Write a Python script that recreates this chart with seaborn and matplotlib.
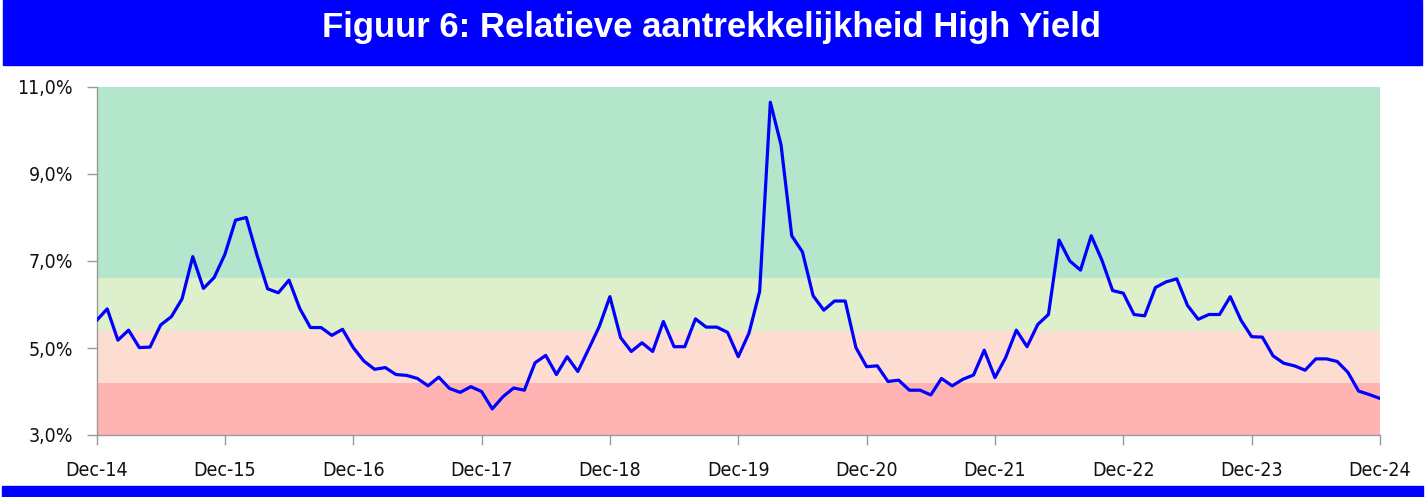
import numpy as np
import pandas as pd
import matplotlib
matplotlib.use("Agg")
import matplotlib.pyplot as plt
import seaborn as sns
from matplotlib import font_manager as fm
from matplotlib.ticker import FuncFormatter

# ---- data ----
tick_labels = ["Dec-14", "Dec-15", "Dec-16", "Dec-17", "Dec-18", "Dec-19",
               "Dec-20", "Dec-21", "Dec-22", "Dec-23", "Dec-24"]
values = [
    5.63, 5.90, 5.18, 5.41, 5.01, 5.02, 5.53, 5.72, 6.13, 7.10, 6.37, 6.62,
    7.15, 7.94, 8.00, 7.14, 6.36, 6.27, 6.56, 5.91, 5.47, 5.47, 5.29, 5.43,
    5.01, 4.70, 4.51, 4.55, 4.39, 4.37, 4.30, 4.13, 4.33, 4.07, 3.98, 4.11,
    4.00, 3.60, 3.88, 4.08, 4.03, 4.66, 4.83, 4.39, 4.80, 4.46, 4.97, 5.49,
    6.18, 5.24, 4.92, 5.12, 4.92, 5.61, 5.03, 5.03, 5.67, 5.48, 5.48, 5.36,
    4.80, 5.34, 6.30, 10.65, 9.67, 7.58, 7.21, 6.20, 5.87, 6.08, 6.08, 5.01,
    4.57, 4.59, 4.23, 4.26, 4.03, 4.03, 3.92, 4.30, 4.13, 4.28, 4.38, 4.95,
    4.32, 4.78, 5.41, 5.03, 5.54, 5.77, 7.48, 7.00, 6.79, 7.58, 7.02, 6.32,
    6.26, 5.77, 5.74, 6.39, 6.52, 6.59, 5.98, 5.66, 5.77, 5.77, 6.18, 5.64,
    5.26, 5.25, 4.82, 4.65, 4.59, 4.49, 4.75, 4.75, 4.69, 4.44, 4.01, 3.93,
    3.84,
]
band_edges = [3.0, 4.2, 5.4, 6.6, 11.0]
band_colors = ["#FFB3B3", "#FDDCD2", "#DEEFCC", "#B3E6CA"]
y_ticks = [3, 5, 7, 9, 11]
title = "Figuur 6: Relatieve aantrekkelijkheid High Yield"

df = pd.DataFrame({"month": np.arange(len(values)), "value": values})

sns.set_style("white")
plt.rcParams["font.family"] = ["DejaVu Sans"]

tick_font = fm.FontProperties(family="DejaVu Sans", stretch="condensed", size=14)

fig = plt.figure(figsize=(14.25, 4.97), dpi=100)
ax = fig.add_axes([96.5 / 1425, 1 - 435 / 497, (1380 - 96.5) / 1425, (435 - 87) / 497])

for lo, hi, c in zip(band_edges[:-1], band_edges[1:], band_colors):
    ax.axhspan(lo, hi, color=c, lw=0, zorder=0)

sns.lineplot(data=df, x="month", y="value", ax=ax, color="#0000FF", lw=2.3, zorder=3)

ax.set_xlim(0, len(values) - 1)
ax.set_ylim(band_edges[0], band_edges[-1])
ax.set_xticks(np.arange(0, len(values), 12))
ax.set_xticklabels(tick_labels)
ax.set_yticks(y_ticks)
ax.yaxis.set_major_formatter(FuncFormatter(lambda v, p: f"{v:.1f}%".replace(".", ",")))
ax.set_xlabel("")
ax.set_ylabel("")

for s in ["top", "right"]:
    ax.spines[s].set_visible(False)
for s in ["left", "bottom"]:
    ax.spines[s].set_color("#9A9A9A")
    ax.spines[s].set_linewidth(1.0)
ax.tick_params(axis="both", which="major", direction="out", length=7, width=1,
               color="#9A9A9A", labelcolor="#111111", left=True, bottom=True)
ax.tick_params(axis="y", pad=10)
ax.tick_params(axis="x", pad=12)
for lab in ax.get_xticklabels() + ax.get_yticklabels():
    lab.set_fontproperties(tick_font)

# title bar and bottom bar
fig.patches.append(plt.Rectangle((3 / 1425, 1 - 65 / 497), 1419 / 1425, 65 / 497,
                                 transform=fig.transFigure, color="#0000FF", zorder=0))
fig.patches.append(plt.Rectangle((2 / 1425, 0), 1421 / 1425, 11 / 497,
                                 transform=fig.transFigure, color="#0000FF", zorder=0))
fig.text(712 / 1425, 1 - 28 / 497, title, color="white", fontsize=25, fontweight="bold",
         family=["Liberation Sans", "DejaVu Sans"], ha="center", va="center")

fig.savefig("out.png", dpi=100)
